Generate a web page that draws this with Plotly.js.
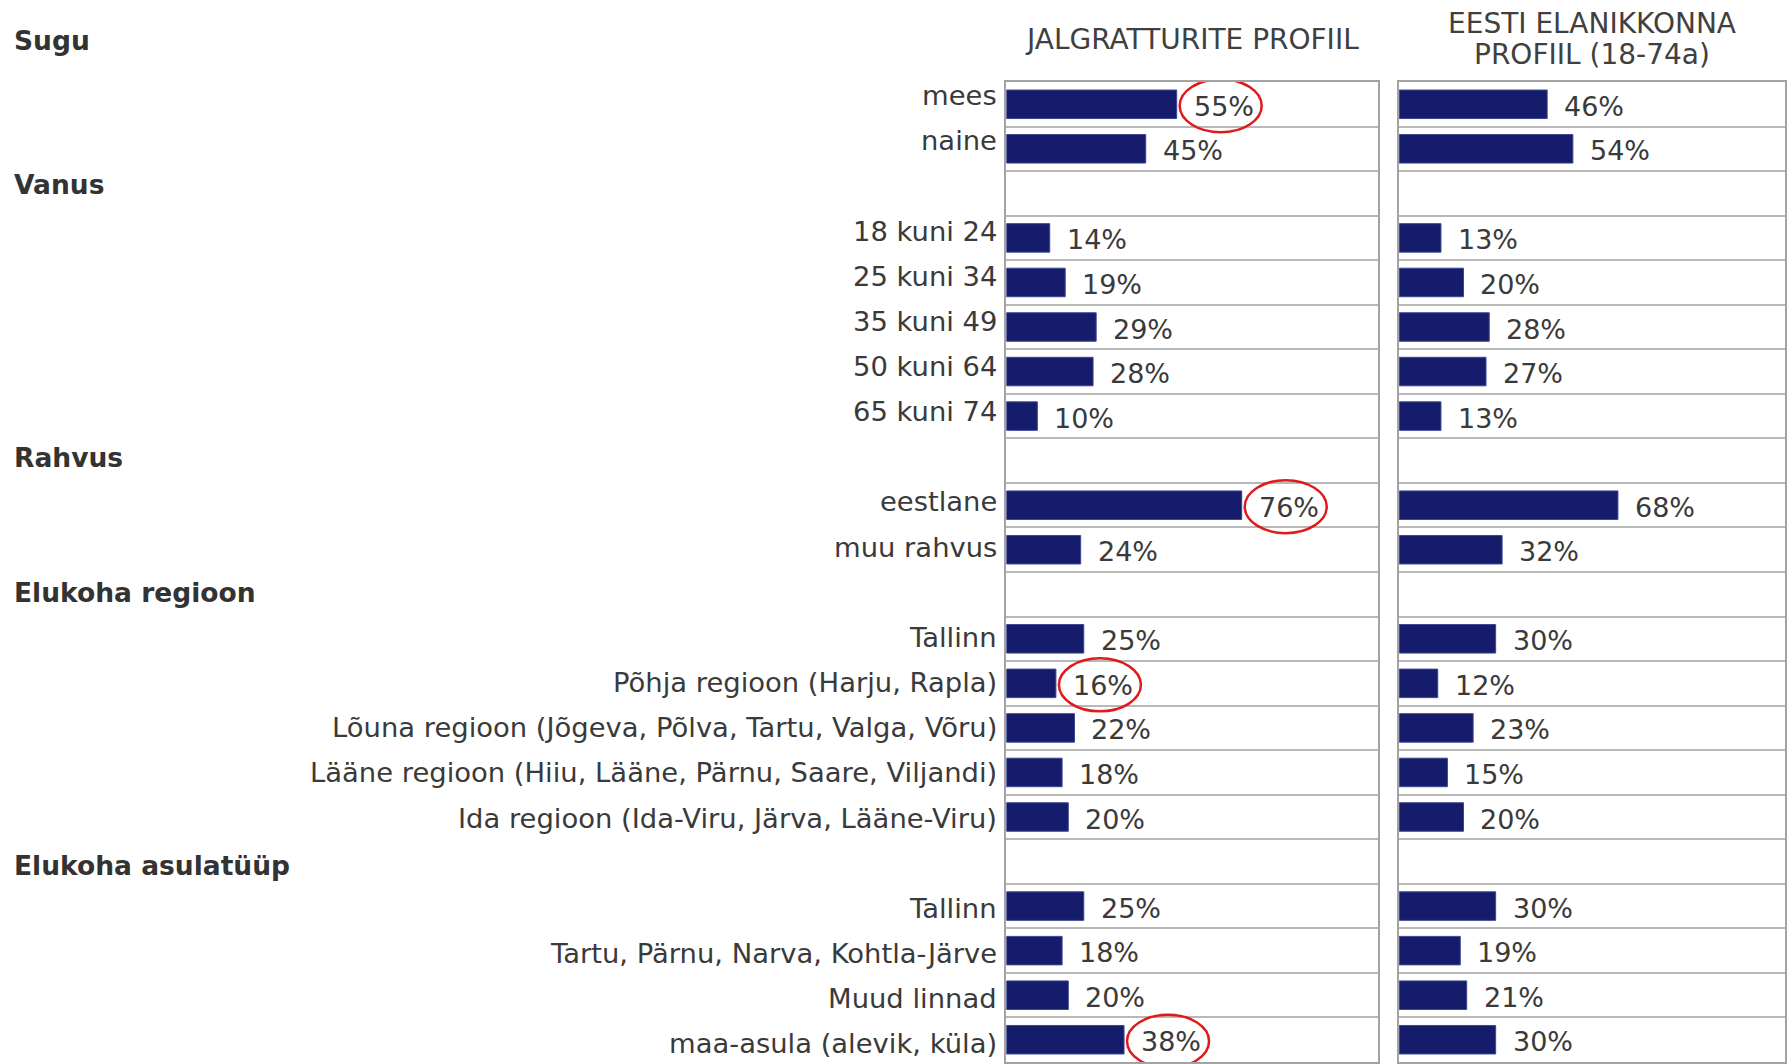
<!DOCTYPE html>
<html>
<head>
<meta charset="utf-8">
<script src="https://cdn.plot.ly/plotly-3.0.1.min.js"></script>
<style>html,body{margin:0;padding:0;background:#fff;}#chart{width:1791px;height:1064px;}</style>
</head>
<body>
<div id="chart"></div>
<script>
// ---- Data ----
const sections = ["Sugu", "Vanus", "Rahvus", "Elukoha regioon", "Elukoha asulatüüp"];
const sectionItems = [
  ["mees", "naine"],
  ["18 kuni 24", "25 kuni 34", "35 kuni 49", "50 kuni 64", "65 kuni 74"],
  ["eestlane", "muu rahvus"],
  ["Tallinn", "Põhja regioon (Harju, Rapla)", "Lõuna regioon (Jõgeva, Põlva, Tartu, Valga, Võru)",
   "Lääne regioon (Hiiu, Lääne, Pärnu, Saare, Viljandi)", "Ida regioon (Ida-Viru, Järva, Lääne-Viru)"],
  ["Tallinn", "Tartu, Pärnu, Narva, Kohtla-Järve", "Muud linnad", "maa-asula (alevik, küla)"]
];
const cyclists   = [55, 45, 14, 19, 29, 28, 10, 76, 24, 25, 16, 22, 18, 20, 25, 18, 20, 38];
const population = [46, 54, 13, 20, 28, 27, 13, 68, 32, 30, 12, 23, 15, 20, 30, 19, 21, 30];
const highlighted = [0, 7, 10, 17]; // indices of circled values in the cyclist panel
const panelTitles = [["JALGRATTURITE PROFIIL"], ["EESTI ELANIKKONNA", "PROFIIL (18-74a)"]];

// ---- Build row positions ----
const labels = [], pos = [], headerPos = [];
let row = 0;
sections.forEach((s, i) => {
  if (i === 0) { headerPos.push(null); }
  else { headerPos.push(row); row++; }
  sectionItems[i].forEach(it => { labels.push(it); pos.push(row); row++; });
});
const nRows = row;
const headerShift = [42, 9, 3, 2, -4]; // pixel nudges of the section headings

const FONT = "DejaVu Sans, Verdana, sans-serif";
const TXT = "#3a3a3a";
const BAR = "#141c6b";
const dom1 = [0.5619, 0.7694], dom2 = [0.7812, 0.9968];

const barTrace = (vals, xa, ya) => ({
  type: "bar", orientation: "h", x: vals, y: pos, xaxis: xa, yaxis: ya,
  width: 0.64, marker: {color: BAR, line: {color: "#3d4594", width: 1}},
  hoverinfo: "skip", showlegend: false
});

const annotations = [];
// section headers
sections.forEach((s, i) => annotations.push({
  xref: "paper", yref: headerPos[i] === null ? "paper" : "y",
  x: 0.0066, y: headerPos[i] === null ? 1 : headerPos[i],
  xanchor: "left", yanchor: "middle", yshift: headerShift[i],
  text: "<b>" + s + "</b>", showarrow: false, font: {family: FONT, size: 26.5, color: "#333"}
}));
// category labels (left of the first panel)
labels.forEach((lab, i) => annotations.push({
  xref: "paper", yref: "y", x: dom1[0], y: pos[i], xanchor: "right", yanchor: "middle",
  xshift: -7, yshift: 8.6 - pos[i] * 0.6, text: lab, showarrow: false,
  font: {family: FONT, size: 27.4, color: TXT}
}));
// value labels
[[cyclists, "x", "y"], [population, "x2", "y2"]].forEach(([vals, xa, ya]) => {
  vals.forEach((v, i) => annotations.push({
    xref: xa, yref: ya, x: v, y: pos[i], xanchor: "left", yanchor: "middle",
    xshift: 15, yshift: -2, text: v + "%", showarrow: false,
    font: {family: FONT, size: 27, color: TXT}
  }));
});
// panel titles
[dom1, dom2].forEach((d, i) => {
  const lines = panelTitles[i];
  lines.forEach((ln, k) => annotations.push({
    xref: "paper", yref: "paper", x: (d[0] + d[1]) / 2, y: 1, xanchor: "center", yanchor: "middle",
    yshift: 43 + ((lines.length - 1) / 2 - k) * 31, text: ln, showarrow: false,
    font: {family: FONT, size: 28, color: "#404040"}
  }));
});

// red circles around highlighted values
const shapes = highlighted.map(i => ({
  type: "circle", xref: "x", yref: "y",
  xsizemode: "pixel", xanchor: cyclists[i], x0: 3, x1: 85,
  ysizemode: "pixel", yanchor: pos[i], y0: -28, y1: 25,
  line: {color: "#e0191b", width: 2.5}
}));

const xCommon = {range: [0, 120], showgrid: false, zeroline: false, showticklabels: false,
  showline: true, mirror: true, linecolor: "#a3a3a3", linewidth: 2, fixedrange: true};
const yCommon = {range: [nRows - 0.5, -0.5], autorange: false, showgrid: false, zeroline: false,
  showline: true, mirror: true, linecolor: "#a3a3a3", linewidth: 2,
  tickmode: "array", tickvals: pos, ticktext: labels, ticks: "", showticklabels: false,
  minor: {tickmode: "linear", tick0: 0.5, dtick: 1, showgrid: true, gridcolor: "#b8b8b8", gridwidth: 2, ticks: ""},
  fixedrange: true};

const layout = {
  width: 1791, height: 1064,
  margin: {l: 0, r: 0, t: 82, b: 2},
  paper_bgcolor: "#fff", plot_bgcolor: "#fff",
  bargap: 0,
  xaxis: Object.assign({}, xCommon, {domain: dom1, anchor: "y"}),
  xaxis2: Object.assign({}, xCommon, {domain: dom2, anchor: "y2"}),
  yaxis: Object.assign({}, yCommon, {anchor: "x"}),
  yaxis2: Object.assign({}, yCommon, {anchor: "x2"}),
  annotations: annotations,
  shapes: shapes,
  font: {family: FONT, color: TXT}
};

Plotly.newPlot("chart", [barTrace(cyclists, "x", "y"), barTrace(population, "x2", "y2")], layout,
  {displayModeBar: false, staticPlot: true});
</script>
</body>
</html>
